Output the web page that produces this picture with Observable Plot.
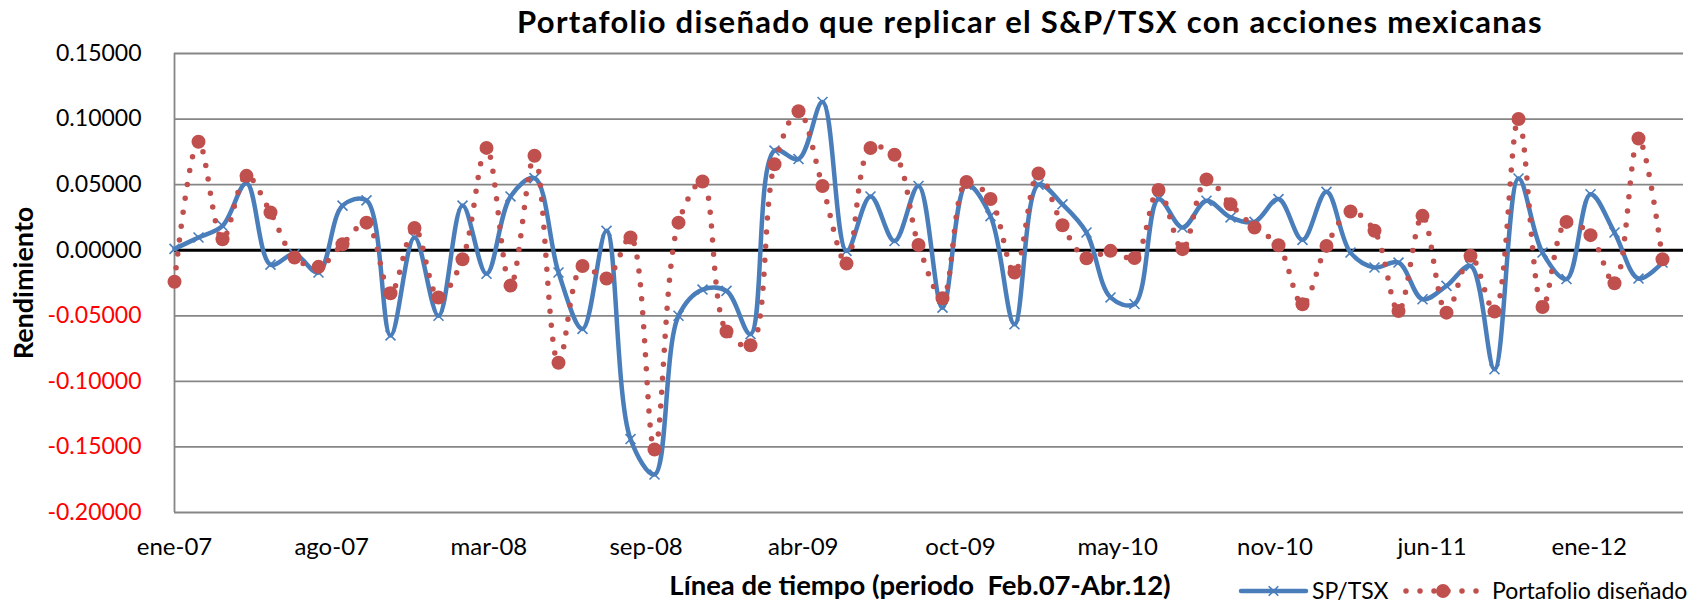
<!DOCTYPE html>
<html>
<head>
<meta charset="utf-8">
<script src="https://cdn.jsdelivr.net/npm/d3@7"></script>
<script src="https://cdn.jsdelivr.net/npm/@observablehq/plot@0.6"></script>
<style>
  html, body { margin: 0; padding: 0; background: #fff; }
  body { width: 1707px; height: 603px; overflow: hidden; position: relative; font-family: Lato, "Open Sans", sans-serif; color: #000; }
  #title { position: absolute; top: 6px; left: 1030px; transform: translateX(-50%); white-space: nowrap; font-weight: bold; font-size: 31px; letter-spacing: 1.3px; line-height: 1; }
  #chart { position: absolute; top: 40px; left: 0; }
  #xtitle { position: absolute; top: 571px; left: 920px; transform: translateX(-50%); white-space: nowrap; font-weight: bold; font-size: 27.5px; line-height: 1; }
  #legend { position: absolute; top: 570px; left: 1230px; }
</style>
</head>
<body>
<div id="title">Portafolio diseñado que replicar el S&amp;P/TSX con acciones mexicanas</div>
<div id="chart"></div>
<div id="xtitle">Línea de tiempo (periodo&nbsp; Feb.07-Abr.12)</div>
<div id="legend"></div>
<script>
// Monthly returns, Feb.07 - Abr.12 (63 periods)
const sptsx = [
  0.001, 0.0097, 0.0186, 0.051, -0.011, -0.003, -0.017, 0.034, 0.038, -0.065,
  0.0097, -0.050, 0.034, -0.018, 0.041, 0.055, -0.017, -0.060, 0.0148, -0.144,
  -0.171, -0.050, -0.030, -0.031, -0.064, 0.076, 0.0695, 0.113, -0.0005, 0.041,
  0.007, 0.049, -0.0438, 0.050, 0.026, -0.0565, 0.050, 0.035, 0.0135, -0.036,
  -0.041, 0.039, 0.0173, 0.0377, 0.025, 0.0216, 0.039, 0.0079, 0.0445, -0.0018,
  -0.0132, -0.0094, -0.0374, -0.0272, -0.012, -0.0908, 0.0547, -0.0018, -0.022, 0.0427,
  0.0135, -0.0216, -0.0094
];
const portafolio = [
  -0.024, 0.0827, 0.0084, 0.0567, 0.0288, -0.0056, -0.0127, 0.0046, 0.021, -0.0328,
  0.017, -0.036, -0.0069, 0.078, -0.027, 0.072, -0.0858, -0.012, -0.0216, 0.0097,
  -0.152, 0.021, 0.0524, -0.062, -0.0725, 0.0656, 0.106, 0.049, -0.0102, 0.0779,
  0.0728, 0.004, -0.0366, 0.052, 0.039, -0.017, 0.0585, 0.019, -0.0061, -0.0005,
  -0.006, 0.046, 0.0008, 0.054, 0.035, 0.0173, 0.0038, -0.0412, 0.0033, 0.0295,
  0.0148, -0.0463, 0.0262, -0.0476, -0.0043, -0.0468, 0.100, -0.0433, 0.0216, 0.0115,
  -0.0252, 0.0852, -0.0069
];
const xTickLabels = ["ene-07", "ago-07", "mar-08", "sep-08", "abr-09", "oct-09", "may-10", "nov-10", "jun-11", "ene-12"];
const yTicks = [0.15, 0.10, 0.05, 0, -0.05, -0.10, -0.15, -0.20];
const seriesNames = ["SP/TSX", "Portafolio diseñado"];

// axis settings (date axis: one label every ~199.5 days = 6.55 periods)
const tickEvery = 6.55;
const xMax = 62.875;

const blue = "#4A7EBB";
const red = "#C0504D";
const grid = "#868686";

const sp = sptsx.map((v, i) => ({i, v}));
const pf = portafolio.map((v, i) => ({i, v}));
const tickPositions = xTickLabels.map((_, k) => k * tickEvery);
const tickMap = new Map(tickPositions.map((p, k) => [p, xTickLabels[k]]));

const chart = Plot.plot({
  width: 1707,
  height: 520,
  marginLeft: 174,
  marginRight: 24,
  marginTop: 13,
  marginBottom: 48,
  style: {fontFamily: "Lato, 'Open Sans', sans-serif", color: "#000", background: "#fff", overflow: "visible"},
  x: {domain: [0, xMax]},
  y: {domain: [-0.2, 0.15]},
  marks: [
    Plot.ruleY(yTicks, {stroke: grid, strokeWidth: 1.8}),
    Plot.ruleX([0], {stroke: grid, strokeWidth: 1.8}),
    Plot.ruleY([0], {stroke: "#000", strokeWidth: 3}),
    Plot.axisY(yTicks.filter(d => d >= 0), {tickSize: 0, tickPadding: 33, tickFormat: d => d.toFixed(5), fontSize: 23, fill: "#000", label: null}),
    Plot.axisY(yTicks.filter(d => d < 0), {tickSize: 0, tickPadding: 33, tickFormat: d => d.toFixed(5), fontSize: 23, fill: "#FF0000", label: null}),
    Plot.axisX(tickPositions, {tickSize: 0, tickPadding: 25, tickFormat: d => tickMap.get(d), fontSize: 24, label: null}),
    Plot.text(["Rendimiento"], {frameAnchor: "left", textAnchor: "middle", rotate: -90, dx: -150, fontSize: 27, fontWeight: "bold", fill: "#000"}),
    Plot.line(sp, {x: "i", y: "v", stroke: blue, strokeWidth: 4.5, curve: "catmull-rom"}),
    Plot.dot(sp, {x: "i", y: "v", symbol: "times", r: 4.6, stroke: blue, strokeWidth: 1.6}),
    Plot.line(pf, {x: "i", y: "v", stroke: red, strokeWidth: 5.5, strokeDasharray: "0 14", strokeLinecap: "round", curve: "catmull-rom"}),
    Plot.dot(pf, {x: "i", y: "v", r: 7, fill: red, stroke: "none"})
  ]
});
document.getElementById("chart").appendChild(chart);

// legend
const lg = d3.select("#legend").append("svg").attr("width", 477).attr("height", 33)
  .style("font-family", "Lato, 'Open Sans', sans-serif");
const ly = 21;
lg.append("line").attr("x1", 11).attr("x2", 76).attr("y1", ly).attr("y2", ly)
  .attr("stroke", blue).attr("stroke-width", 4.5).attr("stroke-linecap", "round");
lg.append("path").attr("d", `M${43.5-4.8},${ly-4.8}L${43.5+4.8},${ly+4.8}M${43.5-4.8},${ly+4.8}L${43.5+4.8},${ly-4.8}`)
  .attr("stroke", blue).attr("stroke-width", 1.6);
lg.append("text").attr("x", 82).attr("y", ly + 8).attr("font-size", 23).text(seriesNames[0]);
lg.append("line").attr("x1", 176).attr("x2", 252).attr("y1", ly).attr("y2", ly)
  .attr("stroke", red).attr("stroke-width", 5.5).attr("stroke-dasharray", "0 14").attr("stroke-linecap", "round");
lg.append("circle").attr("cx", 213).attr("cy", ly).attr("r", 7).attr("fill", red);
lg.append("text").attr("x", 262).attr("y", ly + 8).attr("font-size", 23).text(seriesNames[1]);
</script>
</body>
</html>
